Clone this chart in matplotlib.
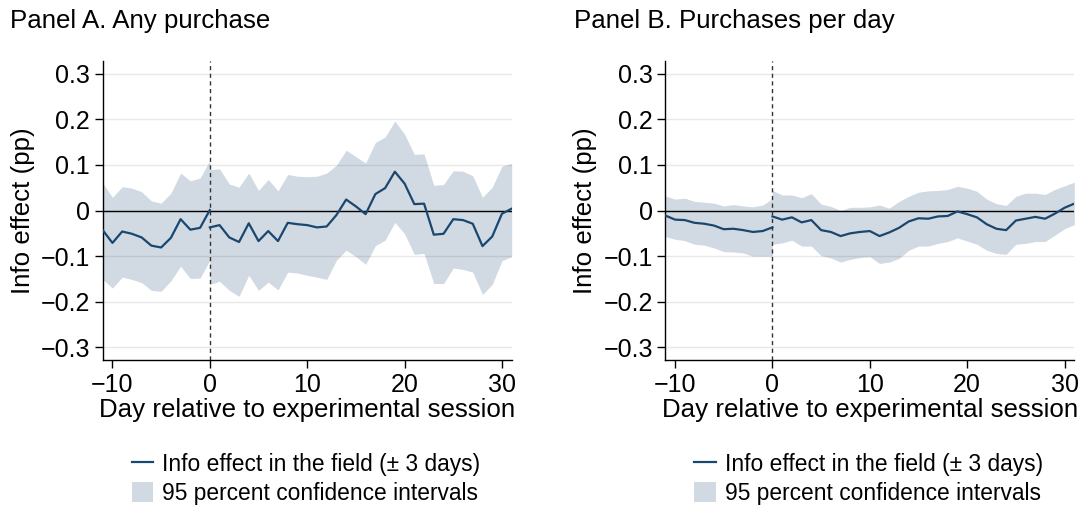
import numpy as np
import matplotlib
matplotlib.use("Agg")
from matplotlib import pyplot as plt
from matplotlib.lines import Line2D
from matplotlib.patches import Patch

plt.rcParams['font.family'] = ['Liberation Sans', 'DejaVu Sans']

# days before / after the session (day 0 belongs to both segments)
days_pre = list(range(-11, 1))
days_post = list(range(0, 32))

# Panel A: any purchase
a_pre = [-0.043, -0.071, -0.046, -0.051, -0.059, -0.077, -0.081, -0.060, -0.019, -0.042, -0.038, 0.001]
a_pre_hi = [0.060, 0.029, 0.052, 0.049, 0.041, 0.021, 0.016, 0.038, 0.082, 0.065, 0.071, 0.110]
a_pre_lo = [-0.151, -0.170, -0.146, -0.151, -0.158, -0.175, -0.177, -0.154, -0.122, -0.149, -0.148, -0.109]
a_post = [-0.037, -0.032, -0.059, -0.069, -0.028, -0.067, -0.045, -0.067, -0.027, -0.030, -0.032,
          -0.037, -0.035, -0.010, 0.024, 0.009, -0.008, 0.036, 0.049, 0.085, 0.059,
          0.014, 0.015, -0.053, -0.051, -0.019, -0.021, -0.029, -0.078, -0.057, -0.007, 0.004]
a_post_hi = [0.090, 0.091, 0.058, 0.051, 0.082, 0.044, 0.068, 0.043, 0.079, 0.075, 0.074,
             0.075, 0.082, 0.099, 0.132, 0.118, 0.104, 0.149, 0.161, 0.196, 0.167,
             0.123, 0.124, 0.055, 0.057, 0.087, 0.086, 0.076, 0.029, 0.051, 0.097, 0.103]
a_post_lo = [-0.162, -0.155, -0.175, -0.188, -0.142, -0.175, -0.157, -0.174, -0.135, -0.137, -0.142,
             -0.146, -0.151, -0.109, -0.087, -0.101, -0.118, -0.077, -0.065, -0.026, -0.051,
             -0.096, -0.094, -0.160, -0.160, -0.126, -0.129, -0.135, -0.184, -0.162, -0.110, -0.101]

# Panel B: purchases per day
b_pre = [-0.011, -0.020, -0.021, -0.027, -0.029, -0.033, -0.041, -0.040, -0.043, -0.047, -0.045, -0.037]
b_pre_hi = [0.032, 0.025, 0.027, 0.020, 0.018, 0.016, 0.010, 0.013, 0.010, 0.008, 0.012, 0.026]
b_pre_lo = [-0.057, -0.063, -0.066, -0.074, -0.076, -0.082, -0.090, -0.091, -0.093, -0.100, -0.100, -0.100]
b_post = [-0.013, -0.020, -0.015, -0.026, -0.021, -0.043, -0.047, -0.056, -0.050, -0.047, -0.045,
          -0.056, -0.048, -0.038, -0.024, -0.017, -0.018, -0.013, -0.012, -0.002, -0.008,
          -0.015, -0.030, -0.040, -0.043, -0.022, -0.018, -0.014, -0.018, -0.007, 0.006, 0.015]
b_post_hi = [0.044, 0.034, 0.034, 0.028, 0.037, 0.014, 0.009, 0.000, 0.007, 0.007, 0.008,
             0.012, 0.005, 0.020, 0.031, 0.040, 0.043, 0.044, 0.046, 0.053, 0.049,
             0.042, 0.025, 0.015, 0.011, 0.031, 0.038, 0.038, 0.035, 0.046, 0.054, 0.062]
b_post_lo = [-0.074, -0.071, -0.065, -0.078, -0.078, -0.099, -0.104, -0.113, -0.107, -0.103, -0.101,
             -0.116, -0.113, -0.105, -0.087, -0.078, -0.078, -0.072, -0.068, -0.060, -0.067,
             -0.074, -0.087, -0.094, -0.096, -0.074, -0.072, -0.068, -0.068, -0.054, -0.040, -0.031]

y_ticks = [-0.3, -0.2, -0.1, 0, 0.1, 0.2, 0.3]
y_labels = ['\u22120.3', '\u22120.2', '\u22120.1', '0', '0.1', '0.2', '0.3']
x_ticks = [-10, 0, 10, 20, 30]
x_labels = ['\u221210', '0', '10', '20', '30']

navy = '#1a476f'
fs = 18.6
fs_tick = 18
fs_leg = 16.4

fig = plt.figure(figsize=(10.83, 5.08), dpi=100)
W, H = 1083, 508


def panel(left, title, title_x, pre, pre_hi, pre_lo, post, post_hi, post_lo):
    ax = fig.add_axes([left / W, 1 - 360 / H, 409 / W, (360 - 61) / H])
    ax.set_xlim(-11, 31)
    ax.set_ylim(-0.3275, 0.3275)
    for t in y_ticks:
        ax.axhline(t, color='#e8e8e8', lw=1.0, zorder=0)
    ax.fill_between(days_pre, pre_lo, pre_hi, color=navy, alpha=0.2, lw=0, zorder=1)
    ax.fill_between(days_post, post_lo, post_hi, color=navy, alpha=0.2, lw=0, zorder=1)
    ax.axhline(0, color='black', lw=1.0, zorder=2)
    ax.axvline(0, color='#333333', lw=1.0, ls=(0, (3, 2.5)), zorder=2)
    ax.plot(days_pre, pre, color=navy, lw=1.6, zorder=3)
    ax.plot(days_post, post, color=navy, lw=1.6, zorder=3)

    ax.set_yticks(y_ticks)
    ax.set_yticklabels(y_labels)
    ax.set_xticks(x_ticks)
    ax.set_xticklabels(x_labels)
    ax.tick_params(labelsize=fs_tick, length=6, width=1, pad=3, color='black')
    for s in ['top', 'right']:
        ax.spines[s].set_visible(False)
    for s in ['left', 'bottom']:
        ax.spines[s].set_linewidth(1.0)
    ax.set_ylabel('Info effect (pp)', fontsize=fs)
    ax.yaxis.set_label_coords(-0.166, 0.5)
    ax.set_xlabel('Day relative to experimental session', fontsize=fs)
    ax.xaxis.set_label_coords(0.5, -0.128)

    fig.text(title_x / W, 1 - 21 / H, title, fontsize=fs, va='center', ha='left')

    handles = [Line2D([], [], color=navy, lw=1.6),
               Patch(facecolor=navy, alpha=0.2, lw=0)]
    fig.legend(handles, ['Info effect in the field (\u00b1 3 days)', '95 percent confidence intervals'],
               loc='center left', bbox_to_anchor=((left + 29) / W, 1 - 479 / H),
               frameon=False, fontsize=fs_leg, handlelength=0.95, handleheight=0.95,
               handletextpad=0.4, labelspacing=0.25, borderpad=0, borderaxespad=0)
    return ax


panel(102.7, 'Panel A. Any purchase', 10, a_pre, a_pre_hi, a_pre_lo, a_post, a_post_hi, a_post_lo)
panel(665.3, 'Panel B. Purchases per day', 574, b_pre, b_pre_hi, b_pre_lo, b_post, b_post_hi, b_post_lo)

fig.savefig('out.png', dpi=100)
